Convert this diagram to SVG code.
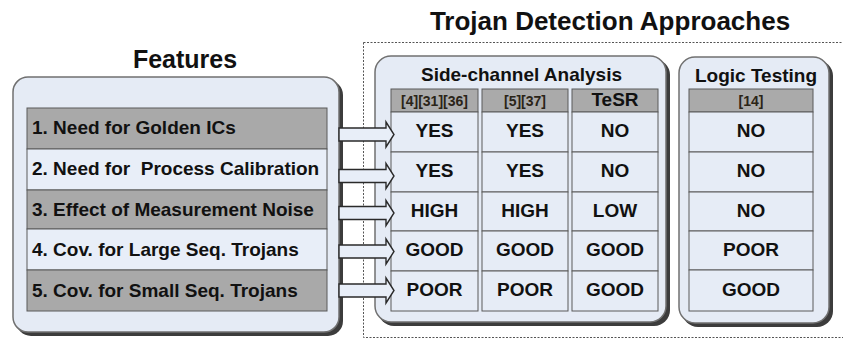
<svg xmlns="http://www.w3.org/2000/svg" width="843" height="339" viewBox="0 0 843 339">
  <defs>
    <style>
      text { font-family: "Liberation Sans", Arial, sans-serif; font-weight: bold; fill: #111; }
      .title { font-size: 25px; text-anchor: middle; }
      .big { font-size: 26px; }
      .sub { font-size: 19px; text-anchor: middle; }
      .feat { font-size: 19px; }
      .val { font-size: 19px; text-anchor: middle; }
      .ref { font-size: 14px; text-anchor: middle; fill: #2a2418; }
      .panel { fill: #e5ebf5; stroke: #707070; stroke-width: 1.5; }
      .shadow { fill: #3c3c3c; }
      .dark { fill: #a9a9a9; stroke: #5a5a5a; stroke-width: 1; }
      .light { fill: #e8eef8; stroke: #5a5a5a; stroke-width: 1; }
      .head { fill: #aaaaaa; stroke: #5a5a5a; stroke-width: 1; }
      .cell { fill: #e6ecf6; stroke: #5a5a5a; stroke-width: 1; }
      .arrow { fill: #e8eef8; stroke: #2a2a2a; stroke-width: 1.4; stroke-linejoin: miter; }
      .frame { fill: none; stroke: #555; stroke-width: 1; stroke-dasharray: 2 1.5; }
    </style>
  </defs>

  <rect width="843" height="339" fill="#ffffff"/>

  <!-- headings -->
  <text class="title big" x="610" y="30">Trojan Detection Approaches</text>
  <text class="title" x="185" y="68">Features</text>

  <!-- dotted frame around the detection approaches -->
  <rect class="frame" x="363.5" y="42.5" width="490" height="295"/>

  <!-- Features panel -->
  <g id="features">
    <rect class="shadow" x="16" y="80" width="327" height="256" rx="15"/>
    <rect class="panel" x="13" y="77" width="326" height="255" rx="15"/>
    <rect class="dark" x="27" y="108" width="300" height="41"/>
    <rect class="light" x="27" y="149" width="300" height="41"/>
    <rect class="dark" x="27" y="190" width="300" height="39"/>
    <rect class="light" x="27" y="229" width="300" height="41"/>
    <rect class="dark" x="27" y="270" width="300" height="41"/>
    <text class="feat" x="32" y="134">1. Need for Golden ICs</text>
    <text class="feat" x="32" y="175" xml:space="preserve">2. Need for  Process Calibration</text>
    <text class="feat" x="32" y="215.5">3. Effect of Measurement Noise</text>
    <text class="feat" x="32" y="255.5">4. Cov. for Large Seq. Trojans</text>
    <text class="feat" x="32" y="296.5">5. Cov. for Small Seq. Trojans</text>
  </g>

  <!-- Side-channel analysis panel -->
  <g id="side-channel">
    <rect class="shadow" x="378" y="59" width="292" height="267" rx="16"/>
    <rect class="panel" x="375" y="56" width="291" height="266" rx="16"/>
    <text class="sub" x="521.5" y="80.5">Side-channel Analysis</text>
    <g id="col-4-31-36">
      <rect class="head" x="391" y="89" width="87" height="23"/>
      <rect class="cell" x="391" y="112" width="87" height="40"/>
      <rect class="cell" x="391" y="152" width="87" height="40"/>
      <rect class="cell" x="391" y="192" width="87" height="39"/>
      <rect class="cell" x="391" y="231" width="87" height="40"/>
      <rect class="cell" x="391" y="271" width="87" height="40"/>
      <text class="ref" x="434.5" y="105.5">[4][31][36]</text>
      <text class="val" x="434.5" y="137">YES</text>
      <text class="val" x="434.5" y="177">YES</text>
      <text class="val" x="434.5" y="216.5">HIGH</text>
      <text class="val" x="434.5" y="256">GOOD</text>
      <text class="val" x="434.5" y="296">POOR</text>
    </g>
    <g id="col-5-37">
      <rect class="head" x="482" y="89" width="86" height="23"/>
      <rect class="cell" x="482" y="112" width="86" height="40"/>
      <rect class="cell" x="482" y="152" width="86" height="40"/>
      <rect class="cell" x="482" y="192" width="86" height="39"/>
      <rect class="cell" x="482" y="231" width="86" height="40"/>
      <rect class="cell" x="482" y="271" width="86" height="40"/>
      <text class="ref" x="525" y="105.5">[5][37]</text>
      <text class="val" x="525" y="137">YES</text>
      <text class="val" x="525" y="177">YES</text>
      <text class="val" x="525" y="216.5">HIGH</text>
      <text class="val" x="525" y="256">GOOD</text>
      <text class="val" x="525" y="296">POOR</text>
    </g>
    <g id="col-tesr">
      <rect class="head" x="572" y="89" width="86" height="23"/>
      <rect class="cell" x="572" y="112" width="86" height="40"/>
      <rect class="cell" x="572" y="152" width="86" height="40"/>
      <rect class="cell" x="572" y="192" width="86" height="39"/>
      <rect class="cell" x="572" y="231" width="86" height="40"/>
      <rect class="cell" x="572" y="271" width="86" height="40"/>
      <text class="val" x="615" y="106">TeSR</text>
      <text class="val" x="615" y="137">NO</text>
      <text class="val" x="615" y="177">NO</text>
      <text class="val" x="615" y="216.5">LOW</text>
      <text class="val" x="615" y="256">GOOD</text>
      <text class="val" x="615" y="296">GOOD</text>
    </g>
  </g>

  <!-- Logic testing panel -->
  <g id="logic-testing">
    <rect class="shadow" x="682" y="60" width="151" height="267" rx="16"/>
    <rect class="panel" x="679" y="57" width="150" height="266" rx="16"/>
    <text class="sub" x="756" y="81.5">Logic Testing</text>
    <rect class="head" x="689" y="89" width="124" height="23"/>
    <rect class="cell" x="689" y="112" width="124" height="40"/>
    <rect class="cell" x="689" y="152" width="124" height="40"/>
    <rect class="cell" x="689" y="192" width="124" height="39"/>
    <rect class="cell" x="689" y="231" width="124" height="39"/>
    <rect class="cell" x="689" y="270" width="124" height="41"/>
    <text class="ref" x="751" y="105.5">[14]</text>
    <text class="val" x="751" y="137">NO</text>
    <text class="val" x="751" y="177">NO</text>
    <text class="val" x="751" y="216.5">NO</text>
    <text class="val" x="751" y="255.5">POOR</text>
    <text class="val" x="751" y="296">GOOD</text>
  </g>

  <!-- block arrows from each feature into the tables -->
  <g id="connectors">
    <path class="arrow" d="M339,128 H386 V122 L394,134.5 L386,147 V141 H339 Z"/>
    <path class="arrow" d="M339,169.5 H386 V163.5 L394,176 L386,188.5 V182.5 H339 Z"/>
    <path class="arrow" d="M339,206.5 H386 V200.5 L394,213 L386,225.5 V219.5 H339 Z"/>
    <path class="arrow" d="M339,245 H386 V239 L394,251.5 L386,264 V258 H339 Z"/>
    <path class="arrow" d="M339,284 H386 V278 L394,290.5 L386,303 V297 H339 Z"/>
  </g>
</svg>
